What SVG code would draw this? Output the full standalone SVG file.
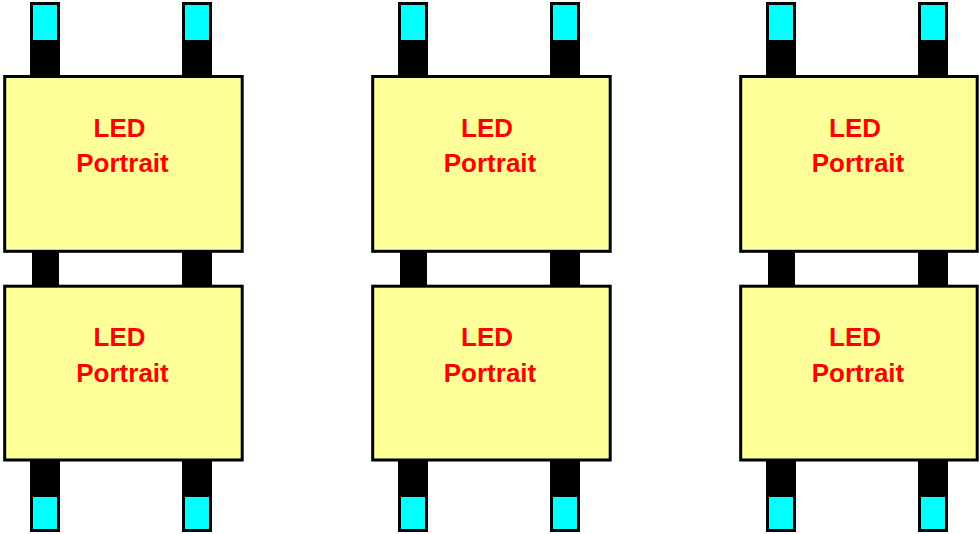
<svg xmlns="http://www.w3.org/2000/svg" width="979" height="534" viewBox="0 0 979 534">
<style>
.box{fill:#FFFF99;stroke:#000;stroke-width:3}
.pin{fill:#000}
.cap{fill:#00FFFF;stroke:#000;stroke-width:3}
.lbl{font-family:"Liberation Sans",Arial,sans-serif;font-weight:bold;font-size:26px;fill:#FF0000;text-anchor:middle}
</style>
<defs>
<g id="col">
<g class="pins">
<rect class="cap" x="31.5" y="3.5" width="27" height="38"/>
<rect class="pin" x="30" y="40" width="30" height="37"/>
<rect class="cap" x="183.5" y="3.5" width="27" height="38"/>
<rect class="pin" x="182" y="40" width="30" height="37"/>
<rect class="pin" x="32" y="250" width="27" height="37"/>
<rect class="pin" x="182" y="250" width="30" height="37"/>
<rect class="pin" x="30" y="459" width="30" height="38"/>
<rect class="cap" x="31.5" y="495.5" width="27" height="35"/>
<rect class="pin" x="182" y="459" width="30" height="38"/>
<rect class="cap" x="183.5" y="495.5" width="27" height="35"/>
</g>
</g>
</defs>
<g id="pins">
<use href="#col"/>
<use href="#col" x="368"/>
<use href="#col" x="736"/>
</g>
<g id="connectors"/>
<g id="led-1-1"><rect class="box" x="4.7" y="76.5" width="237.5" height="174.8"/><text class="lbl" x="119.5" y="137">LED</text><text class="lbl" x="122.5" y="171.5">Portrait</text></g>
<g id="led-1-2"><rect class="box" x="4.7" y="286.2" width="237.5" height="173.8"/><text class="lbl" x="119.5" y="346">LED</text><text class="lbl" x="122.5" y="382">Portrait</text></g>
<g id="led-2-1"><rect class="box" x="372.7" y="76.5" width="237.5" height="174.8"/><text class="lbl" x="487" y="137">LED</text><text class="lbl" x="490" y="171.5">Portrait</text></g>
<g id="led-2-2"><rect class="box" x="372.7" y="286.2" width="237.5" height="173.8"/><text class="lbl" x="487" y="346">LED</text><text class="lbl" x="490" y="382">Portrait</text></g>
<g id="led-3-1"><rect class="box" x="740.7" y="76.5" width="236.5" height="174.8"/><text class="lbl" x="855" y="137">LED</text><text class="lbl" x="858" y="171.5">Portrait</text></g>
<g id="led-3-2"><rect class="box" x="740.7" y="286.2" width="236.5" height="173.8"/><text class="lbl" x="855" y="346">LED</text><text class="lbl" x="858" y="382">Portrait</text></g>
</svg>
